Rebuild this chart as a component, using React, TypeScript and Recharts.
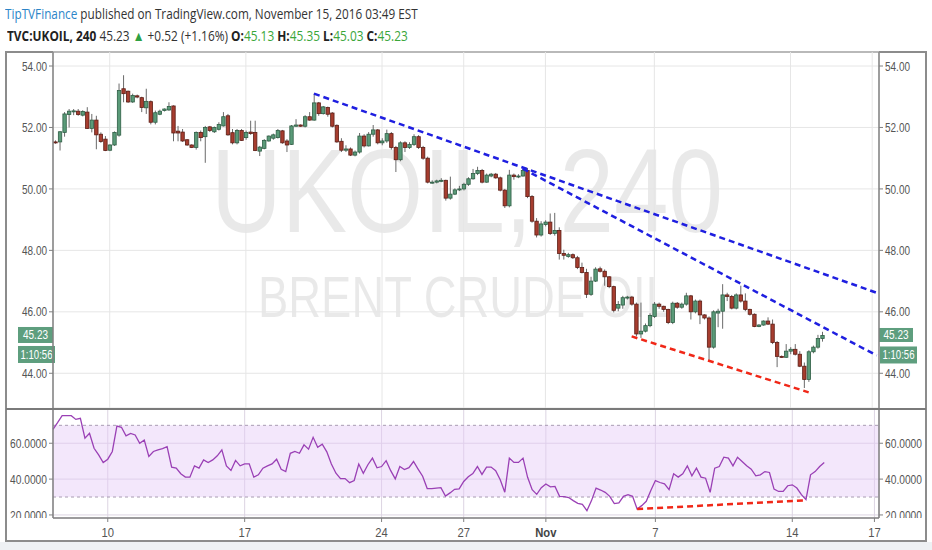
import React, { useLayoutEffect, useRef, useState } from 'react';
import {
  ComposedChart,
  Bar,
  Line,
  XAxis,
  YAxis,
  CartesianGrid,
  ReferenceLine,
  ReferenceArea
} from 'recharts';

// 4h candles of TVC:UKOIL, Oct 6 -> Nov 15 2016, as [open, high, low, close]
const CANDLES: [number, number, number, number][] = [
  [51.53, 51.58, 51.47, 51.50], [51.53, 51.88, 51.25, 51.86], [51.84, 52.50, 51.70, 52.44], [52.42, 52.60, 52.00, 52.53],
  [52.52, 52.60, 52.40, 52.54], [52.53, 52.60, 52.38, 52.42], [52.40, 52.56, 52.36, 52.52], [52.50, 52.66, 51.95, 51.97],
  [51.97, 52.44, 51.84, 52.24], [52.24, 52.38, 51.29, 51.76], [51.78, 51.84, 51.50, 51.54], [51.62, 51.72, 51.23, 51.25],
  [51.26, 51.45, 51.23, 51.43], [51.43, 51.87, 51.40, 51.84], [51.75, 53.43, 51.70, 53.20], [53.26, 53.70, 52.82, 53.10],
  [53.18, 53.20, 52.80, 52.83], [52.83, 53.10, 52.80, 53.04], [53.03, 53.07, 52.95, 52.99], [52.97, 53.00, 52.50, 52.65],
  [52.64, 53.26, 52.44, 52.85], [52.84, 52.88, 52.10, 52.17], [52.17, 52.55, 52.10, 52.48], [52.43, 52.58, 52.40, 52.53],
  [52.55, 52.62, 52.52, 52.60], [52.57, 52.82, 52.54, 52.68], [52.70, 52.72, 51.55, 51.82], [51.88, 52.05, 51.55, 51.82],
  [51.85, 51.95, 51.53, 51.56], [51.60, 51.62, 51.40, 51.43], [51.43, 51.45, 51.33, 51.35], [51.35, 51.87, 51.28, 51.84],
  [51.84, 51.90, 51.55, 51.67], [51.70, 52.05, 50.85, 52.00], [52.02, 52.05, 51.85, 51.90], [51.86, 52.03, 51.82, 52.00],
  [51.94, 52.17, 51.90, 52.10], [52.05, 52.50, 52.03, 52.35], [52.38, 52.44, 51.73, 51.76], [51.83, 51.95, 51.45, 51.50],
  [51.50, 51.95, 51.45, 51.90], [51.90, 51.95, 51.56, 51.58], [51.67, 51.90, 51.60, 51.84], [51.85, 52.22, 51.76, 51.80],
  [51.84, 52.22, 51.23, 51.25], [51.23, 51.40, 51.07, 51.36], [51.32, 51.62, 51.29, 51.58], [51.56, 51.74, 51.54, 51.72],
  [51.65, 51.80, 51.60, 51.76], [51.67, 51.95, 51.64, 51.90], [51.89, 51.92, 51.47, 51.50], [51.56, 51.62, 51.20, 51.43],
  [51.45, 52.08, 51.43, 52.05], [52.04, 52.27, 52.02, 52.08], [52.08, 52.10, 52.02, 52.04], [52.04, 52.40, 52.00, 52.35],
  [52.35, 52.50, 52.22, 52.24], [52.24, 53.10, 52.22, 52.80], [52.80, 52.83, 52.38, 52.45], [52.45, 52.70, 52.42, 52.67],
  [52.65, 52.68, 52.35, 52.43], [52.47, 52.50, 52.00, 52.04], [52.07, 52.10, 51.50, 51.53], [51.55, 51.65, 51.20, 51.26],
  [51.26, 51.42, 51.20, 51.30], [51.30, 51.35, 51.07, 51.10], [51.10, 51.25, 51.06, 51.20], [51.20, 51.82, 51.15, 51.72],
  [51.72, 51.78, 51.35, 51.40], [51.40, 51.85, 51.38, 51.78], [51.78, 52.08, 51.70, 51.92], [51.92, 51.95, 51.45, 51.50],
  [51.50, 51.65, 51.42, 51.56], [51.56, 51.93, 51.50, 51.80], [51.80, 51.85, 51.28, 51.35], [51.35, 51.40, 50.55, 50.95],
  [50.95, 51.55, 50.90, 51.50], [51.50, 51.55, 51.20, 51.35], [51.35, 51.52, 51.30, 51.45], [51.45, 51.78, 51.40, 51.70],
  [51.70, 51.75, 51.30, 51.35], [51.35, 51.40, 50.95, 51.00], [51.00, 51.05, 50.18, 50.22], [50.22, 50.28, 50.17, 50.22],
  [50.22, 50.30, 50.18, 50.26], [50.26, 50.35, 50.22, 50.28], [50.28, 50.30, 49.62, 49.70], [49.70, 50.40, 49.65, 49.83],
  [49.83, 50.02, 49.80, 49.97], [49.97, 50.10, 49.93, 50.00], [50.00, 50.20, 49.95, 50.15], [50.15, 50.38, 50.10, 50.33],
  [50.33, 50.65, 50.30, 50.50], [50.50, 50.72, 50.45, 50.60], [50.60, 50.65, 50.18, 50.22], [50.22, 50.50, 50.20, 50.45],
  [50.42, 50.52, 50.38, 50.48], [50.48, 50.52, 50.33, 50.36], [50.36, 50.40, 49.92, 49.96], [49.96, 50.00, 49.38, 49.45],
  [49.45, 50.62, 49.40, 50.45], [50.45, 50.50, 50.30, 50.40], [50.40, 50.48, 50.35, 50.42], [50.42, 50.66, 50.40, 50.60],
  [50.60, 50.68, 49.70, 49.75], [49.75, 49.80, 48.90, 48.95], [48.95, 49.05, 48.42, 48.50], [48.50, 48.95, 48.45, 48.86],
  [48.84, 48.98, 48.78, 48.92], [48.92, 49.20, 48.50, 48.55], [48.55, 49.22, 48.48, 48.65], [48.65, 48.75, 47.70, 47.90],
  [47.90, 48.02, 47.70, 47.84], [47.80, 47.92, 47.76, 47.86], [47.86, 47.90, 47.72, 47.76], [47.76, 47.82, 47.39, 47.44],
  [47.44, 47.60, 47.25, 47.28], [47.28, 47.40, 46.45, 46.57], [46.57, 47.14, 46.52, 47.00], [47.00, 47.45, 46.97, 47.39],
  [47.40, 47.47, 47.28, 47.32], [47.32, 47.38, 46.85, 47.14], [47.14, 47.16, 46.77, 46.82], [46.82, 46.85, 45.98, 46.05],
  [46.12, 46.35, 46.02, 46.24], [46.22, 46.52, 46.10, 46.46], [46.45, 46.52, 46.40, 46.48], [46.48, 46.52, 46.20, 46.25],
  [46.25, 46.30, 45.20, 45.28], [45.28, 46.30, 45.15, 45.37], [45.37, 45.62, 45.33, 45.55], [45.55, 45.95, 45.50, 45.88],
  [45.85, 46.32, 45.80, 46.25], [46.25, 46.30, 46.10, 46.18], [46.18, 46.20, 46.00, 46.08], [46.08, 46.10, 45.60, 45.65],
  [45.65, 46.33, 45.60, 46.28], [46.28, 46.32, 46.10, 46.15], [46.15, 46.30, 46.10, 46.25], [46.25, 46.62, 46.20, 46.52],
  [46.52, 46.55, 45.75, 46.00], [46.00, 46.40, 45.95, 46.35], [46.35, 46.40, 45.60, 45.90], [45.90, 45.92, 45.75, 45.80],
  [45.80, 45.85, 44.40, 44.85], [44.85, 46.05, 44.80, 46.00], [45.96, 46.10, 45.50, 46.02], [46.02, 46.90, 45.45, 46.55],
  [46.55, 46.62, 46.35, 46.50], [46.50, 46.55, 46.08, 46.12], [46.12, 46.60, 46.08, 46.55], [46.55, 46.85, 46.30, 46.35],
  [46.35, 46.60, 46.02, 46.08], [46.08, 46.10, 45.88, 45.92], [45.92, 45.95, 45.50, 45.52], [45.52, 45.60, 45.50, 45.57],
  [45.57, 45.72, 45.55, 45.70], [45.70, 45.82, 45.57, 45.60], [45.60, 45.75, 44.95, 45.00], [45.00, 45.05, 44.20, 44.55],
  [44.55, 44.58, 44.50, 44.52], [44.52, 44.95, 44.50, 44.72], [44.72, 44.85, 44.62, 44.78], [44.78, 44.95, 44.58, 44.62],
  [44.62, 44.72, 44.20, 44.23], [44.23, 44.35, 43.52, 43.80], [43.80, 44.75, 43.72, 44.70], [44.70, 44.90, 44.65, 44.85],
  [44.85, 45.25, 44.80, 45.13], [45.13, 45.35, 45.03, 45.23]
];

// RSI(14), one value per candle
const RSI: number[] = [
  67.8, 71.5, 75.4, 75.4, 75.4, 73.3, 73.9, 62.8, 65.5, 57.2,
  53.5, 49.2, 51.1, 55.4, 69.6, 68.9, 64.1, 65.5, 64.6, 60.0,
  61.8, 52.6, 55.4, 56.3, 57.0, 58.1, 46.7, 46.1, 43.0, 41.1,
  41.1, 47.4, 46.1, 50.7, 49.2, 50.7, 53.0, 56.3, 47.4, 44.8,
  50.4, 47.4, 48.5, 48.5, 41.1, 42.4, 46.1, 47.4, 48.5, 51.1,
  45.5, 44.2, 54.4, 55.4, 54.4, 59.1, 56.7, 63.3, 57.7, 59.5,
  55.2, 48.4, 43.3, 40.3, 40.3, 38.0, 39.2, 48.4, 43.2, 48.0,
  51.7, 46.3, 47.0, 50.3, 44.7, 40.1, 47.0, 45.3, 46.4, 49.8,
  45.6, 41.6, 34.7, 34.7, 35.0, 35.2, 30.6, 32.3, 34.3, 34.5,
  38.7, 41.3, 43.1, 47.0, 42.6, 46.7, 46.7, 44.7, 39.6, 32.7,
  51.7, 49.3, 49.3, 51.7, 41.0, 34.1, 31.5, 35.2, 37.3, 35.7,
  35.9, 30.4, 30.2, 29.7, 28.0, 26.5, 25.9, 22.4, 28.0, 35.0,
  33.9, 32.6, 30.4, 26.3, 26.7, 30.4, 31.3, 30.4, 23.3, 25.2,
  27.6, 33.7, 39.2, 38.1, 37.4, 34.1, 43.0, 41.1, 43.0, 47.4,
  41.8, 46.1, 41.1, 40.5, 32.6, 46.1, 47.0, 52.2, 51.7, 47.4,
  52.2, 49.8, 47.4, 45.5, 41.8, 42.4, 44.2, 43.7, 34.4, 33.1,
  33.1, 36.3, 36.8, 35.0, 31.3, 28.5, 42.4, 44.2, 47.0, 49.2
];

const SLOTS = 182; // candles plus empty room up to the right axis
const DAY_TICKS = [12, 42, 72, 90, 108, 132, 162, 180];
const DAY_LABELS = ['10', '17', '24', '27', 'Nov', '7', '14', '17'];
const PRICE_TICKS = [44, 46, 48, 50, 52, 54];
const PRICE_DOMAIN = [42.87, 54.456];
const RSI_TICKS = [20, 40, 60];
const RSI_DOMAIN = [18.3, 79.1];

// hand-drawn lines, [bar index, value]
const UPPER_TREND = [[57, 53.1], [181, 46.62]];
const LOWER_TREND = [[103, 50.66], [181, 44.58]];
const PRICE_SUPPORT = [[127, 45.2], [166, 43.38]];
const RSI_SUPPORT = [[128, 23.3], [165, 28.2]];

const LAST_PRICE = 45.23;
const COUNTDOWN = '1:10:56';

const AXIS = '#808080';
const GRID = '#e6e6e6';
const TICK_TEXT = '#555';
const AXIS_FONT = "'Liberation Sans', Arial, sans-serif";
const UP_FILL = '#5a9a78';
const UP_EDGE = '#2f5e45';
const DN_FILL = '#a63d2f';
const DN_EDGE = '#5c1d15';
const TAG = '#5e9e7e';
const QUOTE_GREEN = '#3aa63a';

const at = (pts: number[][], i: number) => {
  const p = pts.find(q => q[0] === i);
  return p ? p[1] : null;
};

const rows = Array.from({ length: SLOTS }, (_, i) => {
  const k = CANDLES[i];
  return {
    i,
    o: k ? k[0] : null,
    h: k ? k[1] : null,
    l: k ? k[2] : null,
    c: k ? k[3] : null,
    range: k ? [k[2], k[1]] : null,
    rsi: i < RSI.length ? RSI[i] : null,
    up1: at(UPPER_TREND, i),
    up2: at(LOWER_TREND, i),
    sup: at(PRICE_SUPPORT, i),
    rsup: at(RSI_SUPPORT, i)
  };
});

const Candle = (props: any) => {
  const { x, y, width, height, payload } = props;
  if (!payload || payload.o == null) return null;
  const { o, h, l, c } = payload;
  const top = Math.min(y, y + height);
  const span = Math.abs(height);
  const k = h > l ? span / (h - l) : 0;
  const py = (v: number) => top + (h - v) * k;
  const cx = x + width / 2;
  const up = c >= o;
  const b1 = py(Math.max(o, c));
  const b2 = py(Math.min(o, c));
  return (
    <g>
      <line x1={cx} x2={cx} y1={top} y2={top + span} stroke="#6a6a6a" strokeWidth={1} />
      <rect
        x={cx - 1.7}
        y={b1}
        width={3.4}
        height={Math.max(b2 - b1, 1)}
        fill={up ? UP_FILL : DN_FILL}
        stroke={up ? UP_EDGE : DN_EDGE}
        strokeWidth={0.8}
      />
    </g>
  );
};

const ValueTick = (props: any) => {
  const { x, y, payload, textAnchor, digits, len, clipBelow } = props;
  const label = Number(payload.value).toFixed(digits);
  const id = `clip-${textAnchor}-${payload.value}`;
  const clip = clipBelow != null && payload.value === clipBelow;
  return (
    <g>
      {clip && (
        <defs>
          <clipPath id={id}>
            <rect x={x - 60} y={y - 20} width={120} height={23} />
          </clipPath>
        </defs>
      )}
      <text
        x={x}
        y={y}
        dy={4.6}
        textAnchor={textAnchor}
        fontSize={13}
        fill={TICK_TEXT}
        fontFamily={AXIS_FONT}
        textLength={len}
        lengthAdjust="spacingAndGlyphs"
        clipPath={clip ? `url(#${id})` : undefined}
      >
        {label}
      </text>
    </g>
  );
};

const DateTick = (props: any) => {
  const { x, y, payload } = props;
  const label = DAY_LABELS[DAY_TICKS.indexOf(payload.value)] ?? '';
  const bold = label === 'Nov';
  return (
    <text
      transform={`translate(${x},${y + 12.5}) scale(0.9,1)`}
      textAnchor="middle"
      fontSize={12.5}
      fontWeight={bold ? 700 : 400}
      fill={bold ? '#444' : TICK_TEXT}
      fontFamily={AXIS_FONT}
    >
      {label}
    </text>
  );
};

const PriceTags = (props: any) => {
  const vb = props.viewBox || {};
  const left = vb.x;
  const right = vb.x + vb.width;
  const yy = vb.y;
  const txt = (cx: number, cy: number, s: string, len: number) => (
    <text x={cx} y={cy} textAnchor="middle" fontSize={12.5} fill="#fff" fontFamily={AXIS_FONT}
      textLength={len} lengthAdjust="spacingAndGlyphs">{s}</text>
  );
  return (
    <g>
      <rect x={left - 35} y={yy - 8.5} width={35} height={16} fill={TAG} />
      {txt(left - 17.5, yy + 4, LAST_PRICE.toFixed(2), 25)}
      <rect x={left - 35} y={yy + 10.5} width={37} height={17} fill={TAG} />
      {txt(left - 16.5, yy + 23.5, COUNTDOWN, 32)}
      <rect x={right} y={yy - 7.5} width={34} height={14} fill={TAG} />
      {txt(right + 17, yy + 4, LAST_PRICE.toFixed(2), 25)}
      <rect x={right + 1} y={yy + 11} width={37} height={17} fill={TAG} />
      {txt(right + 19.5, yy + 24, COUNTDOWN, 32)}
    </g>
  );
};

// a header line squeezed horizontally to the width it has in the screenshot
function FitLine({ left, top, width, children }: { left: number; top: number; width: number; children: React.ReactNode }) {
  const ref = useRef<HTMLDivElement>(null);
  const [k, setK] = useState(1);
  useLayoutEffect(() => {
    if (ref.current) setK(width / ref.current.scrollWidth);
  }, [width]);
  return (
    <div
      ref={ref}
      style={{
        position: 'absolute', left, top, whiteSpace: 'nowrap', fontFamily: "'Open Sans', sans-serif",
        fontSize: 14, lineHeight: '18px', color: '#333', transform: `scaleX(${k})`, transformOrigin: 'left top'
      }}
    >
      {children}
    </div>
  );
}

const dashed = { strokeDasharray: '6 4', strokeWidth: 2.5, dot: false, connectNulls: true, isAnimationActive: false };

export default function App() {
  const b = { fontWeight: 700, color: '#222' };
  const g = { color: QUOTE_GREEN };
  return (
    <div style={{ position: 'absolute', left: 0, top: 0, width: 932, height: 550, background: '#fff', overflow: 'hidden' }}>
      <div style={{ position: 'absolute', left: 0, top: 542, width: 932, height: 8, background: '#eef1f4' }} />
      <div style={{ position: 'absolute', left: 5, top: 51, width: 922, height: 491, boxSizing: 'border-box', border: '2px solid #8c8c8c', background: '#fff' }} />

      <svg width={932} height={550} style={{ position: 'absolute', left: 0, top: 0 }}>
        <text x={211} y={232} fontSize={118} fill="#000" fillOpacity={0.085} fontFamily={AXIS_FONT}
          textLength={512} lengthAdjust="spacingAndGlyphs">UKOIL, 240</text>
        <text x={258} y={317} fontSize={58} fill="#000" fillOpacity={0.085} fontFamily={AXIS_FONT}
          textLength={413} lengthAdjust="spacingAndGlyphs">BRENT CRUDE OIL</text>
      </svg>

      <div style={{ position: 'absolute', left: 0, top: 0 }}>
        <ComposedChart width={932} height={410} data={rows} margin={{ top: 52, right: 6, bottom: 2, left: 6 }} barCategoryGap={0}>
          <CartesianGrid stroke={GRID} />
          <XAxis dataKey="i" type="category" hide ticks={DAY_TICKS} interval={0} />
          <YAxis domain={PRICE_DOMAIN} ticks={PRICE_TICKS} width={47} tickSize={4} tickMargin={2} allowDataOverflow
            axisLine={{ stroke: AXIS, strokeWidth: 1.5 }} tickLine={{ stroke: AXIS }}
            tick={<ValueTick digits={2} len={25} />} />
          <YAxis yAxisId="R" orientation="right" domain={PRICE_DOMAIN} ticks={PRICE_TICKS} width={47} tickSize={4} tickMargin={2} allowDataOverflow
            axisLine={{ stroke: AXIS, strokeWidth: 1.5 }} tickLine={{ stroke: AXIS }}
            tick={<ValueTick digits={2} len={25} />} />
          <Bar dataKey="range" shape={<Candle />} isAnimationActive={false} />
          <Line dataKey="up1" stroke="#1f1fe0" {...dashed} />
          <Line dataKey="up2" stroke="#1f1fe0" {...dashed} />
          <Line dataKey="sup" stroke="#f02818" {...dashed} />
          <ReferenceLine y={LAST_PRICE} stroke="#000" strokeOpacity={0} label={<PriceTags />} />
        </ComposedChart>
      </div>

      <div style={{ position: 'absolute', left: 0, top: 0 }}>
        <ComposedChart width={932} height={550} data={rows} margin={{ top: 409, right: 6, bottom: 10, left: 6 }}>
          <ReferenceArea y1={30} y2={70} fill="#e4c9f6" fillOpacity={0.45} stroke="none" />
          <CartesianGrid stroke="#dcd4e2" />
          <XAxis dataKey="i" type="category" ticks={DAY_TICKS} interval={0} height={22} tickSize={4}
            axisLine={{ stroke: AXIS, strokeWidth: 1.5 }} tickLine={{ stroke: AXIS }} tick={<DateTick />} />
          <YAxis domain={RSI_DOMAIN} ticks={RSI_TICKS} width={47} tickSize={4} tickMargin={2} allowDataOverflow
            axisLine={{ stroke: AXIS, strokeWidth: 1.5 }} tickLine={{ stroke: AXIS }}
            tick={<ValueTick digits={4} len={37} clipBelow={20} />} />
          <YAxis yAxisId="R" orientation="right" domain={RSI_DOMAIN} ticks={RSI_TICKS} width={47} tickSize={4} tickMargin={2} allowDataOverflow
            axisLine={{ stroke: AXIS, strokeWidth: 1.5 }} tickLine={{ stroke: AXIS }}
            tick={<ValueTick digits={4} len={37} clipBelow={20} />} />
          <ReferenceLine y={70} stroke="#a99cb2" strokeDasharray="3 3" />
          <ReferenceLine y={30} stroke="#a99cb2" strokeDasharray="3 3" />
          <Line dataKey="rsi" stroke="#9a40b5" strokeWidth={1.3} dot={false} isAnimationActive={false} />
          <Line dataKey="rsup" stroke="#f02818" {...dashed} />
        </ComposedChart>
      </div>

      <div style={{ position: 'absolute', left: 6, top: 407.5, width: 920, height: 2, background: '#7a7a7a' }} />

      <FitLine left={5} top={5} width={413}>
        <span style={{ color: '#2b85c8' }}>TipTVFinance</span> published on TradingView.com, November 15, 2016 03:49 EST
      </FitLine>
      <FitLine left={7} top={27} width={401}>
        <span style={b}>TVC:UKOIL, 240</span> 45.23 <span style={{ color: '#2ea043' }}>▲</span> +0.52 (+1.16%){' '}
        <span style={b}>O:</span><span style={g}>45.13</span>{' '}
        <span style={b}>H:</span><span style={g}>45.35</span>{' '}
        <span style={b}>L:</span><span style={g}>45.03</span>{' '}
        <span style={b}>C:</span><span style={g}>45.23</span>
      </FitLine>
    </div>
  );
}
